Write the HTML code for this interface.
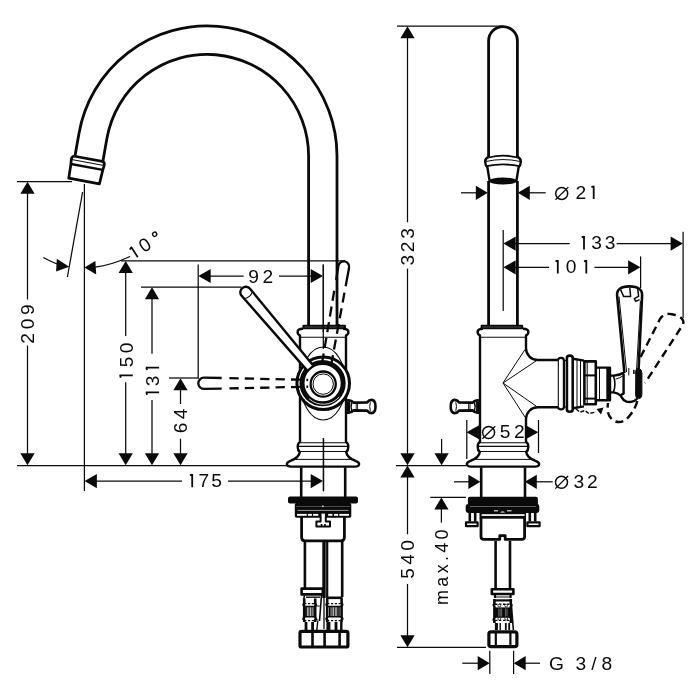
<!DOCTYPE html>
<html><head><meta charset="utf-8"><title>Faucet dimension drawing</title>
<style>
html,body{margin:0;padding:0;background:#fff;}
body{width:700px;height:700px;overflow:hidden;font-family:"Liberation Sans",sans-serif;}
svg{display:block;will-change:transform;}
text{font-family:"Liberation Sans",sans-serif;fill:#0a0a0a;}
</style></head><body>
<svg width="700" height="700" viewBox="0 0 700 700" stroke-linecap="butt" stroke-linejoin="round">
<!-- left view: spout -->
<path d="M74.89 156.57 L78.97 133.43 A130 130 0 0 1 337 156 L337 325" stroke="#0a0a0a" stroke-width="2.8" fill="none" />
<path d="M102.95 161.01 L106.94 138.36 A101.6 101.6 0 0 1 308.6 156 L308.6 325" stroke="#0a0a0a" stroke-width="2.8" fill="none" />
<g transform="translate(88.4 158.8) rotate(10.5)">
<path d="M-14 0 L14 0" stroke="#0a0a0a" stroke-width="2.6" fill="none" />
<path d="M-14 0 Q-17.2 0.5 -16.7 4 L-16.2 8.3 L-15.8 22.6 L15.4 22.6 L16.2 8.3 L16.7 4 Q17.2 0.5 14 0" stroke="#0a0a0a" stroke-width="2.7" fill="none" />
<path d="M-16.2 8.3 L16.2 8.3" stroke="#0a0a0a" stroke-width="2.4" fill="none" />
<path d="M-16.5 3.8 L16.5 3.8" stroke="#0a0a0a" stroke-width="1.0" fill="none" />
</g>
<!-- left dims -->
<line x1="17" y1="181.6" x2="72" y2="181.6" stroke="#0a0a0a" stroke-width="1.25" />
<line x1="17" y1="465.6" x2="290" y2="465.6" stroke="#0a0a0a" stroke-width="1.25" />
<line x1="27.5" y1="190" x2="27.5" y2="299.5" stroke="#0a0a0a" stroke-width="1.25" />
<line x1="27.5" y1="345.5" x2="27.5" y2="456" stroke="#0a0a0a" stroke-width="1.25" />
<polygon points="27.50,181.80 20.35,193.80 34.65,193.80" fill="#0a0a0a"/>
<polygon points="27.50,465.20 20.35,453.20 34.65,453.20" fill="#0a0a0a"/>
<g transform="translate(34.40 342.70) rotate(-90)">
<text x="4.38" y="0" font-size="19.2" text-anchor="middle">2</text>
<text x="18.67" y="0" font-size="19.2" text-anchor="middle">0</text>
<text x="32.96" y="0" font-size="19.2" text-anchor="middle">9</text>
</g>
<line x1="84.4" y1="184" x2="84.4" y2="491" stroke="#0a0a0a" stroke-width="1.25" />
<line x1="82.6" y1="192" x2="67.4" y2="277" stroke="#0a0a0a" stroke-width="1.25" />
<polygon points="69.2,266.8 56.8,258.8 56.1,271.6" fill="#0a0a0a"/>
<path d="M43.3 257.5 Q50 261.2 57 264" stroke="#0a0a0a" stroke-width="1.25" fill="none" />
<polygon points="84.4,267.6 95.4,261 96.2,274.6" fill="#0a0a0a"/>
<path d="M95.5 267.2 Q113 264.5 130 256.5" stroke="#0a0a0a" stroke-width="1.25" fill="none" />
<g transform="translate(137.8 257.2) rotate(-33.3)">
<path d="M-2.5 -10.7 L0 -11.9 M0 -12.4 L0 0" stroke="#0a0a0a" stroke-width="1.7" fill="none"/>
<text x="12.7" y="0.2" font-size="19" text-anchor="middle">0</text>
<circle cx="26.7" cy="-9.9" r="2.1" fill="none" stroke="#0a0a0a" stroke-width="1.3"/>
</g>
<line x1="121" y1="260.8" x2="345" y2="260.8" stroke="#0a0a0a" stroke-width="1.25" />
<line x1="125.7" y1="270" x2="125.7" y2="336" stroke="#0a0a0a" stroke-width="1.25" />
<line x1="125.7" y1="382.3" x2="125.7" y2="456" stroke="#0a0a0a" stroke-width="1.25" />
<polygon points="125.70,261.00 118.55,273.00 132.85,273.00" fill="#0a0a0a"/>
<polygon points="125.70,465.20 118.55,453.20 132.85,453.20" fill="#0a0a0a"/>
<g transform="translate(132.80 377.90) rotate(-90)">
<path d="M0.30 -11.99 L2.60 -12.79 M2.60 -13.34 L2.60 0" stroke="#0a0a0a" stroke-width="1.8" fill="none" stroke-linejoin="miter"/>
<text x="15.90" y="0" font-size="19.2" text-anchor="middle">5</text>
<text x="30.01" y="0" font-size="19.2" text-anchor="middle">0</text>
</g>
<line x1="141" y1="287" x2="241.5" y2="287" stroke="#0a0a0a" stroke-width="1.25" />
<line x1="152" y1="296" x2="152" y2="353.8" stroke="#0a0a0a" stroke-width="1.25" />
<line x1="152" y1="400" x2="152" y2="456" stroke="#0a0a0a" stroke-width="1.25" />
<polygon points="152.00,287.20 144.85,299.20 159.15,299.20" fill="#0a0a0a"/>
<polygon points="152.00,465.20 144.85,453.20 159.15,453.20" fill="#0a0a0a"/>
<g transform="translate(159.10 395.00) rotate(-90)">
<path d="M0.30 -11.99 L2.60 -12.79 M2.60 -13.34 L2.60 0" stroke="#0a0a0a" stroke-width="1.8" fill="none" stroke-linejoin="miter"/>
<text x="14.16" y="0" font-size="19.2" text-anchor="middle">3</text>
<path d="M25.00 -11.99 L27.30 -12.79 M27.30 -13.34 L27.30 0" stroke="#0a0a0a" stroke-width="1.8" fill="none" stroke-linejoin="miter"/>
</g>
<line x1="169" y1="378" x2="199" y2="378" stroke="#0a0a0a" stroke-width="1.25" />
<line x1="180.5" y1="387" x2="180.5" y2="404" stroke="#0a0a0a" stroke-width="1.25" />
<line x1="180.5" y1="438.7" x2="180.5" y2="456" stroke="#0a0a0a" stroke-width="1.25" />
<polygon points="180.50,378.20 173.35,390.20 187.65,390.20" fill="#0a0a0a"/>
<polygon points="180.50,465.20 173.35,453.20 187.65,453.20" fill="#0a0a0a"/>
<g transform="translate(187.40 432.20) rotate(-90)">
<text x="4.36" y="0" font-size="19.2" text-anchor="middle">6</text>
<text x="18.22" y="0" font-size="19.2" text-anchor="middle">4</text>
</g>
<line x1="198.2" y1="264.6" x2="198.2" y2="378" stroke="#0a0a0a" stroke-width="1.25" />
<line x1="323.3" y1="264.6" x2="323.3" y2="332" stroke="#0a0a0a" stroke-width="1.25" />
<line x1="209" y1="276" x2="243.6" y2="276" stroke="#0a0a0a" stroke-width="1.25" />
<line x1="279" y1="276" x2="312" y2="276" stroke="#0a0a0a" stroke-width="1.25" />
<polygon points="198.40,276.00 210.70,268.90 210.70,283.10" fill="#0a0a0a"/>
<polygon points="323.00,276.00 310.70,268.90 310.70,283.10" fill="#0a0a0a"/>
<g transform="translate(249.20 282.60)">
<text x="4.44" y="0" font-size="19.2" text-anchor="middle">9</text>
<text x="18.62" y="0" font-size="19.2" text-anchor="middle">2</text>
</g>
<line x1="323.3" y1="438" x2="323.3" y2="491" stroke="#0a0a0a" stroke-width="1.25" />
<line x1="95" y1="481.1" x2="182" y2="481.1" stroke="#0a0a0a" stroke-width="1.25" />
<line x1="228" y1="481.1" x2="312" y2="481.1" stroke="#0a0a0a" stroke-width="1.25" />
<polygon points="84.60,481.10 96.90,474.00 96.90,488.20" fill="#0a0a0a"/>
<polygon points="323.00,481.10 310.70,474.00 310.70,488.20" fill="#0a0a0a"/>
<g transform="translate(189.60 487.30)">
<path d="M0.30 -11.99 L2.60 -12.79 M2.60 -13.34 L2.60 0" stroke="#0a0a0a" stroke-width="1.8" fill="none" stroke-linejoin="miter"/>
<text x="14.34" y="0" font-size="19.2" text-anchor="middle">7</text>
<text x="26.97" y="0" font-size="19.2" text-anchor="middle">5</text>
</g>
<!-- left body -->
<path d="M303 328.8 Q297.5 329 297.6 332 Q297.6 334.6 300 335.4 L300 442 Q297.6 443 297.7 447 Q297.7 450.5 299.8 452 Q299 458 290 461.2 Q286.4 462.5 287 464.8 Q287.5 466.6 291 466.6 L355 466.6 Q358.5 466.6 359 464.8 Q359.6 462.5 356 461.2 Q347 458 346.2 452 Q348.3 450.5 348.3 447 Q348.4 443 346 442 L346 335.4 Q348.4 334.6 348.4 332 Q348.5 329 343 328.8" stroke="#0a0a0a" stroke-width="2.4" fill="none" />
<path d="M303.4 325.6 L345 325.6 L345 328.4 L303.4 328.4 Z" stroke="#0a0a0a" stroke-width="1.9" fill="none" />
<line x1="303.9" y1="327" x2="344.5" y2="327" stroke="#0a0a0a" stroke-width="1.6" />
<line x1="300" y1="337.2" x2="346" y2="337.2" stroke="#0a0a0a" stroke-width="1.1" />
<line x1="300" y1="442.8" x2="346" y2="442.8" stroke="#0a0a0a" stroke-width="1.1" />
<line x1="298" y1="446.4" x2="348" y2="446.4" stroke="#0a0a0a" stroke-width="1.1" />
<line x1="299" y1="451.5" x2="347" y2="451.5" stroke="#0a0a0a" stroke-width="1.1" />
<line x1="291" y1="459.4" x2="355" y2="459.4" stroke="#0a0a0a" stroke-width="1.0" />
<line x1="323.3" y1="264.6" x2="323.3" y2="349" stroke="#0a0a0a" stroke-width="1.25" />
<line x1="323.6" y1="438.6" x2="323.6" y2="491.4" stroke="#0a0a0a" stroke-width="1.25" />
<ellipse cx="323.2" cy="383.5" rx="22.5" ry="36.5" fill="none" stroke="#0a0a0a" stroke-width="1.1"/>
<circle cx="323.2" cy="383.3" r="26.3" fill="#fff" stroke="#0a0a0a" stroke-width="3"/>
<circle cx="322.59999999999997" cy="383.1" r="20.6" fill="none" stroke="#0a0a0a" stroke-width="5.0"/>
<path d="M309.2 398.90000000000003 A21 21 0 0 0 339.2 396.90000000000003" fill="none" stroke="#fff" stroke-width="0.8"/>
<circle cx="323.2" cy="384.1" r="12.6" fill="none" stroke="#0a0a0a" stroke-width="2.3"/>
<circle cx="323.2" cy="384.1" r="10.2" fill="none" stroke="#0a0a0a" stroke-width="1.0"/>
<path d="M346.6 400.6 Q351.1 399.6 353.6 402.6 L367.1 402.4 Q369.1 399.8 371.8 399.9 Q375.5 400.4 375.5 406.5 Q375.5 412.6 371.8 413.1 Q369.1 413.2 367.1 410.6 L353.6 410.4 Q351.1 413.4 346.6 412.4" stroke="#0a0a0a" stroke-width="2.6" fill="none" />
<path d="M348.40000000000003 401.6 L348.40000000000003 411.6" stroke="#0a0a0a" stroke-width="3.4" fill="none" />
<path d="M351.8 402.4 Q350.20000000000005 406.5 351.8 410.8" stroke="#0a0a0a" stroke-width="1.6" fill="none" />
<path d="M370.40000000000003 402.3 Q369.0 406.5 370.40000000000003 410.8" stroke="#0a0a0a" stroke-width="1.0" fill="none" />
<line x1="356.20000000000005" y1="403" x2="356.20000000000005" y2="410.2" stroke="#0a0a0a" stroke-width="0.9" />
<line x1="357.6" y1="403" x2="357.6" y2="410.2" stroke="#0a0a0a" stroke-width="0.9" />
<g transform="translate(323.2 383.3) rotate(-130.36)">
<path d="M20 -3.9 L119.5 -5.5 A5.5 5.5 0 0 1 119.5 5.5 L20 3.9" stroke="#0a0a0a" stroke-width="2.4" fill="#fff" />
<path d="M115.6 -5.3 Q112.5 0 115.6 5.3" stroke="#0a0a0a" stroke-width="1.0" fill="none" />
<path d="M20 -3.9 L20 3.9" stroke="#0a0a0a" stroke-width="1.6" fill="none" />
</g>
<g transform="translate(323.2 383.3) rotate(180.00)">
<path d="M101.5 -5.3 L119.3 -5.6 A5.6 5.6 0 0 1 119.3 5.6 L101.5 5.3" stroke="#0a0a0a" stroke-width="2.3" fill="none" />
<path d="M93.8 -5.15 L15 -3.4" stroke="#0a0a0a" stroke-width="2.3" fill="none" stroke-dasharray="9.3 6.1"/>
<path d="M93.8 5.15 L15 3.4" stroke="#0a0a0a" stroke-width="2.3" fill="none" stroke-dasharray="9.3 6.1"/>
</g>
<g transform="translate(323.2 383.3) rotate(-80.00)">
<path d="M104 -5.25 L118.3 -5.4 A5.4 5.4 0 0 1 118.3 5.4 L99.5 5.25" stroke="#0a0a0a" stroke-width="2.3" fill="none" />
<path d="M93 5.2 L15 4.6" stroke="#0a0a0a" stroke-width="2.3" fill="none" stroke-dasharray="10.1 5.8"/>
<path d="M93 -5.2 L15 -4.6" stroke="#0a0a0a" stroke-width="2.3" fill="none" stroke-dasharray="10.1 5.8"/>
</g>
<!-- left under-sink -->
<path d="M301.2 467.5 L301.2 497 M345.2 467.5 L345.2 497" stroke="#0a0a0a" stroke-width="2.6" fill="none" />
<rect x="288" y="496.4" width="70" height="7.2" rx="2" fill="#0a0a0a"/>
<rect x="294.8" y="503" width="56.5" height="14.8" rx="1.8" fill="#0a0a0a"/>
<rect x="297.5" y="509.9" width="51" height="0.9" fill="#aaa"/>
<rect x="296" y="506.3" width="54" height="0.7" fill="#666"/>
<rect x="297" y="513.9" width="9.699999999999989" height="1.9" fill="#fff"/>
<rect x="307.9" y="513.9" width="4.0" height="1.9" fill="#fff"/>
<rect x="313" y="513.9" width="5.300000000000011" height="1.9" fill="#fff"/>
<rect x="328.2" y="513.9" width="4.199999999999989" height="1.9" fill="#fff"/>
<rect x="334" y="513.9" width="4.100000000000023" height="1.9" fill="#fff"/>
<rect x="339.3" y="513.9" width="9.699999999999989" height="1.9" fill="#fff"/>
<rect x="321.5" y="513.6" width="3.4" height="7.4" fill="#fff"/>
<path d="M320.6 517 L320.6 521.6 L316.4 521.6 L316.4 526.6 L330 526.6 L330 521.6 L325.8 521.6 L325.8 517" stroke="#0a0a0a" stroke-width="2.0" fill="none" />
<path d="M321.5 524 L321.5 526 M325 524 L325 526" stroke="#0a0a0a" stroke-width="1.6" fill="none" />
<rect x="322" y="505.6" width="1.6" height="1.2" fill="#fff"/>
<path d="M301.6 517 L301.6 537.2 Q301.6 540.8 305.2 540.8 L340.8 540.8 Q344.4 540.8 344.4 537.2 L344.4 517" stroke="#0a0a0a" stroke-width="2.8" fill="none" />
<path d="M304.9 541 L304.9 588 M342.2 541 L342.2 597" stroke="#0a0a0a" stroke-width="2.6" fill="none" />
<path d="M324 541 L324 598" stroke="#0a0a0a" stroke-width="3.4" fill="none" />
<path d="M324 598 L324 629" stroke="#0a0a0a" stroke-width="1.3" fill="none" />
<path d="M327.2 541 L327.2 597" stroke="#0a0a0a" stroke-width="2.2" fill="none" />
<path d="M301.6 588.6 L322.8 588.6 L322.8 594.4 L301.6 594.4 Z" stroke="#0a0a0a" stroke-width="2.6" fill="none" />
<path d="M304.4 595 Q304 599 303.8 601 M321.5 595 L319.5 621" stroke="#0a0a0a" stroke-width="1.6" fill="none" />
<path d="M306 597.2 L320 597.2" stroke="#0a0a0a" stroke-width="1.4" fill="none" />
<path d="M326.2 597.8 L342.6 597.8" stroke="#0a0a0a" stroke-width="2.6" fill="none" />
<path d="M304.2 598.5 L304.2 603.5 Q303.0 604.5 304.2 606 L304.2 617 Q303.0 618.5 304.2 620 L304.2 622 M315.2 598.5 L315.2 603.5 Q316.4 604.5 315.2 606 L315.2 617 Q316.4 618.5 315.2 620 L315.2 622" stroke="#0a0a0a" stroke-width="2.6" fill="none" />
<path d="M304.2 603.6 L315.2 603.6 M304.2 620.6 L315.2 620.6" stroke="#0a0a0a" stroke-width="1.3" fill="none" stroke-dasharray="2.2 1.6"/>
<path d="M304.2 606.6 L315.2 606.6 M304.2 616.8 L315.2 616.8" stroke="#0a0a0a" stroke-width="1.5" fill="none" />
<line x1="306.5" y1="607" x2="306.5" y2="616.5" stroke="#0a0a0a" stroke-width="0.9" />
<line x1="308.09999999999997" y1="607" x2="308.09999999999997" y2="616.5" stroke="#0a0a0a" stroke-width="0.9" />
<line x1="309.7" y1="607" x2="309.7" y2="616.5" stroke="#0a0a0a" stroke-width="0.9" />
<line x1="311.3" y1="607" x2="311.3" y2="616.5" stroke="#0a0a0a" stroke-width="0.9" />
<line x1="312.9" y1="607" x2="312.9" y2="616.5" stroke="#0a0a0a" stroke-width="0.9" />
<path d="M305.09999999999997 607 L305.09999999999997 616.5 M314.3 607 L314.3 616.5" stroke="#0a0a0a" stroke-width="1.6" fill="none" />
<path d="M327.2 598.5 L327.2 603.5 Q326.0 604.5 327.2 606 L327.2 617 Q326.0 618.5 327.2 620 L327.2 622 M341.6 598.5 L341.6 603.5 Q342.8 604.5 341.6 606 L341.6 617 Q342.8 618.5 341.6 620 L341.6 622" stroke="#0a0a0a" stroke-width="2.6" fill="none" />
<path d="M327.2 603.6 L341.6 603.6 M327.2 620.6 L341.6 620.6" stroke="#0a0a0a" stroke-width="1.3" fill="none" stroke-dasharray="2.2 1.6"/>
<path d="M327.2 606.6 L341.6 606.6 M327.2 616.8 L341.6 616.8" stroke="#0a0a0a" stroke-width="1.5" fill="none" />
<line x1="331.2" y1="607" x2="331.2" y2="616.5" stroke="#0a0a0a" stroke-width="0.9" />
<line x1="332.79999999999995" y1="607" x2="332.79999999999995" y2="616.5" stroke="#0a0a0a" stroke-width="0.9" />
<line x1="334.4" y1="607" x2="334.4" y2="616.5" stroke="#0a0a0a" stroke-width="0.9" />
<line x1="336.0" y1="607" x2="336.0" y2="616.5" stroke="#0a0a0a" stroke-width="0.9" />
<line x1="337.59999999999997" y1="607" x2="337.59999999999997" y2="616.5" stroke="#0a0a0a" stroke-width="0.9" />
<path d="M329.79999999999995 607 L329.79999999999995 616.5 M339.0 607 L339.0 616.5" stroke="#0a0a0a" stroke-width="1.6" fill="none" />
<path d="M315.5 606 L319.8 606 M315.5 620 L318.6 620" stroke="#0a0a0a" stroke-width="1.2" fill="none" />
<path d="M306 622 L306 630 M312.6 622 L312.6 630" stroke="#0a0a0a" stroke-width="2.8" fill="none" />
<path d="M317.8 621 L316.8 630" stroke="#0a0a0a" stroke-width="1.4" fill="none" />
<path d="M328.4 622 L328.4 630" stroke="#0a0a0a" stroke-width="4.0" fill="none" />
<path d="M336 622 L336 630" stroke="#0a0a0a" stroke-width="2.8" fill="none" />
<path d="M341.3 622 L341.3 630" stroke="#0a0a0a" stroke-width="2.4" fill="none" />
<path d="M300 633 Q300 631.4 301.8 631.4 L346 631.4 Q347.9 631.4 347.9 633 L347.9 645.4 Q347.9 647 346 647 L301.8 647 Q300 647 300 645.4 Z" stroke="#0a0a0a" stroke-width="3.2" fill="none" />
<path d="M312.5 631 L312.5 647 M324.6 631 L324.6 647 M339.6 631 L339.6 647" stroke="#0a0a0a" stroke-width="2.6" fill="none" />
<!-- right view -->
<path d="M488.6 157 L488.6 41 A14.4 14.4 0 0 1 517.4 41 L517.4 157" stroke="#0a0a0a" stroke-width="2.8" fill="none" />
<path d="M488.6 181 L488.6 325 M517.4 181 L517.4 325" stroke="#0a0a0a" stroke-width="2.8" fill="none" />
<path d="M488.6 157.5 Q503 153.6 517.4 157.5" stroke="#0a0a0a" stroke-width="1.8" fill="none" />
<path d="M488.6 157 Q484.9 158.3 485.2 162 Q485.4 165.8 487.4 167.3 L489.6 181 M517.4 157 Q521.1 158.3 520.8 162 Q520.6 165.8 518.6 167.3 L516.4 181" stroke="#0a0a0a" stroke-width="2.4" fill="none" />
<path d="M485.6 161.5 Q503 157.6 520.4 161.5" stroke="#0a0a0a" stroke-width="1.0" fill="none" />
<path d="M486.6 166.2 Q503 162.6 519.4 166.2" stroke="#0a0a0a" stroke-width="1.8" fill="none" />
<ellipse cx="503" cy="181" rx="14" ry="3.5" fill="#0a0a0a"/>
<line x1="397" y1="26" x2="503" y2="26" stroke="#0a0a0a" stroke-width="1.25" />
<line x1="396" y1="465.6" x2="466" y2="465.6" stroke="#0a0a0a" stroke-width="1.25" />
<line x1="397" y1="647.4" x2="486" y2="647.4" stroke="#0a0a0a" stroke-width="1.25" />
<line x1="407.5" y1="35" x2="407.5" y2="222.3" stroke="#0a0a0a" stroke-width="1.25" />
<line x1="407.5" y1="268.6" x2="407.5" y2="456" stroke="#0a0a0a" stroke-width="1.25" />
<line x1="407.5" y1="475" x2="407.5" y2="534.3" stroke="#0a0a0a" stroke-width="1.25" />
<line x1="407.5" y1="584" x2="407.5" y2="638" stroke="#0a0a0a" stroke-width="1.25" />
<polygon points="407.50,26.20 400.35,38.20 414.65,38.20" fill="#0a0a0a"/>
<polygon points="407.50,465.20 400.35,453.20 414.65,453.20" fill="#0a0a0a"/>
<polygon points="407.50,465.40 400.35,477.40 414.65,477.40" fill="#0a0a0a"/>
<polygon points="407.50,647.30 400.35,635.30 414.65,635.30" fill="#0a0a0a"/>
<g transform="translate(414.30 264.80) rotate(-90)">
<text x="4.61" y="0" font-size="19.2" text-anchor="middle">3</text>
<text x="17.95" y="0" font-size="19.2" text-anchor="middle">2</text>
<text x="31.41" y="0" font-size="19.2" text-anchor="middle">3</text>
</g>
<g transform="translate(414.20 577.90) rotate(-90)">
<text x="4.57" y="0" font-size="19.2" text-anchor="middle">5</text>
<text x="18.59" y="0" font-size="19.2" text-anchor="middle">4</text>
<text x="32.51" y="0" font-size="19.2" text-anchor="middle">0</text>
</g>
<line x1="461" y1="192.8" x2="478" y2="192.8" stroke="#0a0a0a" stroke-width="1.25" />
<line x1="528" y1="192.8" x2="545.7" y2="192.8" stroke="#0a0a0a" stroke-width="1.25" />
<polygon points="487.80,192.80 475.80,185.65 475.80,199.95" fill="#0a0a0a"/>
<polygon points="517.80,192.80 529.80,185.65 529.80,199.95" fill="#0a0a0a"/>
<circle cx="561.7" cy="193.4" r="6.0" fill="none" stroke="#0a0a0a" stroke-width="1.5"/>
<line x1="555.5" y1="199.70000000000002" x2="568.3000000000001" y2="187.1" stroke="#0a0a0a" stroke-width="1.3" />
<g transform="translate(576.40 199.10)">
<text x="4.38" y="0" font-size="19.2" text-anchor="middle">2</text>
<path d="M15.00 -11.99 L17.30 -12.79 M17.30 -13.34 L17.30 0" stroke="#0a0a0a" stroke-width="1.8" fill="none" stroke-linejoin="miter"/>
</g>
<line x1="503.2" y1="230" x2="503.2" y2="311" stroke="#0a0a0a" stroke-width="1.25" />
<line x1="683.1" y1="231.7" x2="683.1" y2="318" stroke="#0a0a0a" stroke-width="1.25" />
<line x1="513" y1="243.6" x2="569.7" y2="243.6" stroke="#0a0a0a" stroke-width="1.25" />
<line x1="616.6" y1="243.6" x2="673" y2="243.6" stroke="#0a0a0a" stroke-width="1.25" />
<polygon points="503.40,243.60 515.70,236.50 515.70,250.70" fill="#0a0a0a"/>
<polygon points="682.90,243.60 670.60,236.50 670.60,250.70" fill="#0a0a0a"/>
<g transform="translate(581.40 249.40)">
<path d="M0.30 -11.99 L2.60 -12.79 M2.60 -13.34 L2.60 0" stroke="#0a0a0a" stroke-width="1.8" fill="none" stroke-linejoin="miter"/>
<text x="15.31" y="0" font-size="19.2" text-anchor="middle">3</text>
<text x="28.81" y="0" font-size="19.2" text-anchor="middle">3</text>
</g>
<line x1="640.6" y1="256.4" x2="640.6" y2="288" stroke="#0a0a0a" stroke-width="1.25" />
<line x1="513" y1="267.3" x2="549.1" y2="267.3" stroke="#0a0a0a" stroke-width="1.25" />
<line x1="594.4" y1="267.3" x2="630" y2="267.3" stroke="#0a0a0a" stroke-width="1.25" />
<polygon points="503.40,267.30 515.70,260.20 515.70,274.40" fill="#0a0a0a"/>
<polygon points="640.40,267.30 628.10,260.20 628.10,274.40" fill="#0a0a0a"/>
<g transform="translate(555.20 273.40)">
<path d="M0.30 -11.99 L2.60 -12.79 M2.60 -13.34 L2.60 0" stroke="#0a0a0a" stroke-width="1.8" fill="none" stroke-linejoin="miter"/>
<text x="16.00" y="0" font-size="19.2" text-anchor="middle">0</text>
<path d="M28.80 -11.99 L31.10 -12.79 M31.10 -13.34 L31.10 0" stroke="#0a0a0a" stroke-width="1.8" fill="none" stroke-linejoin="miter"/>
</g>
<line x1="466.8" y1="420" x2="466.8" y2="459" stroke="#0a0a0a" stroke-width="1.25" />
<line x1="538.5" y1="420" x2="538.5" y2="453" stroke="#0a0a0a" stroke-width="1.25" />
<polygon points="466.50,432.30 479.10,425.30 479.10,439.30" fill="#0a0a0a"/>
<polygon points="538.30,432.30 525.70,425.30 525.70,439.30" fill="#0a0a0a"/>
<circle cx="488.6" cy="432.5" r="6.0" fill="none" stroke="#0a0a0a" stroke-width="1.5"/>
<line x1="482.40000000000003" y1="438.8" x2="495.20000000000005" y2="426.2" stroke="#0a0a0a" stroke-width="1.3" />
<g transform="translate(500.40 438.40)">
<text x="4.57" y="0" font-size="19.2" text-anchor="middle">5</text>
<text x="18.92" y="0" font-size="19.2" text-anchor="middle">2</text>
</g>
<line x1="454" y1="481.8" x2="470" y2="481.8" stroke="#0a0a0a" stroke-width="1.25" />
<line x1="535" y1="481.8" x2="552.7" y2="481.8" stroke="#0a0a0a" stroke-width="1.25" />
<polygon points="480.40,481.80 468.40,474.65 468.40,488.95" fill="#0a0a0a"/>
<polygon points="524.80,481.80 536.80,474.65 536.80,488.95" fill="#0a0a0a"/>
<circle cx="561.5" cy="482.3" r="6.0" fill="none" stroke="#0a0a0a" stroke-width="1.5"/>
<line x1="555.3" y1="488.6" x2="568.1" y2="476.0" stroke="#0a0a0a" stroke-width="1.3" />
<g transform="translate(574.30 488.40)">
<text x="4.61" y="0" font-size="19.2" text-anchor="middle">3</text>
<text x="18.02" y="0" font-size="19.2" text-anchor="middle">2</text>
</g>
<line x1="430.3" y1="497.4" x2="466" y2="497.4" stroke="#0a0a0a" stroke-width="1.25" />
<line x1="441.6" y1="439" x2="441.6" y2="454" stroke="#0a0a0a" stroke-width="1.25" />
<polygon points="441.60,465.20 434.45,453.20 448.75,453.20" fill="#0a0a0a"/>
<polygon points="441.40,497.60 434.25,509.60 448.55,509.60" fill="#0a0a0a"/>
<line x1="441.4" y1="508" x2="441.4" y2="522.6" stroke="#0a0a0a" stroke-width="1.25" />
<g transform="translate(447.90 603.80) rotate(-90)">
<text x="-1.19" y="0" font-size="18" letter-spacing="3.31">max.40</text>
</g>
<line x1="489.8" y1="650.7" x2="489.8" y2="674" stroke="#0a0a0a" stroke-width="1.25" />
<line x1="513.6" y1="650.7" x2="513.6" y2="674" stroke="#0a0a0a" stroke-width="1.25" />
<line x1="462.3" y1="663.2" x2="478.5" y2="663.2" stroke="#0a0a0a" stroke-width="1.25" />
<line x1="525" y1="663.2" x2="540" y2="663.2" stroke="#0a0a0a" stroke-width="1.25" />
<polygon points="489.70,663.20 477.70,656.05 477.70,670.35" fill="#0a0a0a"/>
<polygon points="513.70,663.20 525.70,656.05 525.70,670.35" fill="#0a0a0a"/>
<g transform="translate(550.00 669.90)">
<text x="-0.96" y="0" font-size="19.2" letter-spacing="0.00">G</text>
</g>
<g transform="translate(576.20 669.90)">
<text x="-0.73" y="0" font-size="19.2" letter-spacing="4.98">3/8</text>
</g>
<path d="M483 328.8 Q477.5 329 477.6 332 Q477.6 334.6 480 335.4 L480 442 Q477.6 443 477.7 447 Q477.7 450.5 479.8 452 Q479 458 470 461.2 Q466.4 462.5 467 464.8 Q467.5 466.6 471 466.6 L535 466.6 Q538.5 466.6 539 464.8 Q539.6 462.5 536 461.2 Q527 458 526.2 452 Q528.3 450.5 528.3 447 Q528.4 443 526 442 L526 419 A11.7 11.7 0 0 1 537.7 407.3 L558 407.3 M558 360 L537.7 360 A11.7 11.7 0 0 1 526 348.3 L526 335.4 Q528.4 334.6 528.4 332 Q528.5 329 523 328.8" stroke="#0a0a0a" stroke-width="2.4" fill="none" />
<path d="M481.6 325.6 L522.2 325.6 L522.2 328.4 L481.6 328.4 Z" stroke="#0a0a0a" stroke-width="1.9" fill="none" />
<line x1="482.1" y1="327" x2="521.7" y2="327" stroke="#0a0a0a" stroke-width="1.6" />
<line x1="480" y1="337.2" x2="526" y2="337.2" stroke="#0a0a0a" stroke-width="1.1" />
<line x1="480" y1="442.8" x2="526" y2="442.8" stroke="#0a0a0a" stroke-width="1.1" />
<line x1="478" y1="446.4" x2="528" y2="446.4" stroke="#0a0a0a" stroke-width="1.1" />
<line x1="479" y1="451.5" x2="527" y2="451.5" stroke="#0a0a0a" stroke-width="1.1" />
<line x1="471" y1="459.4" x2="535" y2="459.4" stroke="#0a0a0a" stroke-width="1.0" />
<path d="M525 349.5 L503 383 L525 417 M536 361 L503 383 L536 406" stroke="#0a0a0a" stroke-width="1.0" fill="none" />
<path d="M479.6 400.6 Q475.1 399.6 472.6 402.6 L459.1 402.4 Q457.1 399.8 454.40000000000003 399.9 Q450.70000000000005 400.4 450.70000000000005 406.5 Q450.70000000000005 412.6 454.40000000000003 413.1 Q457.1 413.2 459.1 410.6 L472.6 410.4 Q475.1 413.4 479.6 412.4" stroke="#0a0a0a" stroke-width="2.6" fill="none" />
<path d="M477.8 401.6 L477.8 411.6" stroke="#0a0a0a" stroke-width="3.4" fill="none" />
<path d="M474.40000000000003 402.4 Q476.0 406.5 474.40000000000003 410.8" stroke="#0a0a0a" stroke-width="1.6" fill="none" />
<path d="M455.8 402.3 Q457.20000000000005 406.5 455.8 410.8" stroke="#0a0a0a" stroke-width="1.0" fill="none" />
<line x1="470.0" y1="403" x2="470.0" y2="410.2" stroke="#0a0a0a" stroke-width="0.9" />
<line x1="468.6" y1="403" x2="468.6" y2="410.2" stroke="#0a0a0a" stroke-width="0.9" />
<path d="M558 360 Q558.6 357.6 561.2 357.8 Q563.9 358 563.9 360.5 L563.9 407 Q563.9 409.3 561.2 409.4 Q558.6 409.4 558 407.3" stroke="#0a0a0a" stroke-width="2.2" fill="none" />
<line x1="558.3" y1="360" x2="558.3" y2="407.3" stroke="#0a0a0a" stroke-width="1.1" />
<path d="M566.9 358 Q566.9 355.6 569.8 355.6 Q572.7 355.6 572.7 358 L572.7 409.5 Q572.7 411.8 569.8 411.8 Q566.9 411.8 566.9 409.5 Z" stroke="#0a0a0a" stroke-width="2.6" fill="none" />
<line x1="564.5" y1="360.5" x2="566.5" y2="360.5" stroke="#0a0a0a" stroke-width="1.2" />
<line x1="564.5" y1="407" x2="566.5" y2="407" stroke="#0a0a0a" stroke-width="1.2" />
<path d="M573 358.8 L584 360.6 M573 408.2 L584 406.4" stroke="#0a0a0a" stroke-width="2.4" fill="none" />
<line x1="577" y1="359.5" x2="577" y2="407.5" stroke="#0a0a0a" stroke-width="1.0" />
<line x1="580.5" y1="360" x2="580.5" y2="407" stroke="#0a0a0a" stroke-width="1.0" />
<path d="M584.4 361.4 L595.8 361.4 L595.8 404.2 L584.4 404.2 Z" stroke="#0a0a0a" stroke-width="2.6" fill="none" />
<line x1="584.4" y1="375.4" x2="595.8" y2="375.4" stroke="#0a0a0a" stroke-width="2.0" />
<line x1="584.4" y1="398.6" x2="595.8" y2="398.6" stroke="#0a0a0a" stroke-width="2.0" />
<line x1="587.2" y1="362" x2="587.2" y2="404" stroke="#0a0a0a" stroke-width="1.0" />
<path d="M596 367.6 L610 367.6 L610 400.2 L596 400.2" stroke="#0a0a0a" stroke-width="2.4" fill="none" />
<path d="M608.6 367.6 L608.6 400.2" stroke="#0a0a0a" stroke-width="4.6" fill="none" />
<line x1="599.5" y1="368" x2="599.5" y2="400" stroke="#0a0a0a" stroke-width="1.0" />
<path d="M611 375.6 L614 375.6 Q620 375 624 372.6 M611 392.4 L613.5 392.4 Q618 393 620.6 395.6" stroke="#0a0a0a" stroke-width="2.4" fill="none" />
<path d="M613.4 376 Q616.5 384 613.4 392.4" stroke="#0a0a0a" stroke-width="1.6" fill="none" />
<path d="M615.5 379.2 Q620 378 623.5 375.6" stroke="#0a0a0a" stroke-width="1.0" fill="none" />
<path d="M617.1 295.5 Q616.4 286.5 629.4 286.4 Q642.6 286.5 642.1 295.5 L638.6 369 M617.1 295.5 L624.4 373" stroke="#0a0a0a" stroke-width="2.6" fill="none" />
<path d="M619 296.5 L626.6 372 M640.4 301 L636.6 369" stroke="#0a0a0a" stroke-width="1.0" fill="none" />
<path d="M620.4 289.2 L623.6 296.4 L630.6 296.4 L629.8 287.8 M637.7 288.4 L638.6 296.4 L634.3 298.6 L635.8 301.4 L639.6 299.6" stroke="#0a0a0a" stroke-width="1.5" fill="none" />
<path d="M623.6 374 L623.6 393.6 Q620.4 394.6 621.2 396.6 Q623 400.2 626.5 401.6 Q631 402.8 634.5 400.8 Q636.6 399.4 637.3 398.4" stroke="#0a0a0a" stroke-width="2.4" fill="none" />
<path d="M635.8 371 Q636 368.4 638.6 368.6 Q641.9 369 641.9 373 L641.9 394 Q641.9 398.6 638.6 398.6 Q635.6 398.6 635.6 395 Z" stroke="#0a0a0a" stroke-width="1.0" fill="#0a0a0a" />
<line x1="628.8" y1="368" x2="628.8" y2="375.4" stroke="#0a0a0a" stroke-width="1.0" />
<line x1="633.6" y1="369.8" x2="633.6" y2="374" stroke="#0a0a0a" stroke-width="1.0" />
<line x1="634.9" y1="369.8" x2="634.9" y2="374" stroke="#0a0a0a" stroke-width="1.0" />
<path d="M640.6 357 L660 319 Q664 312.6 672 314.2 Q685.5 317 683 324.6 L645 383" stroke="#0a0a0a" stroke-width="2.4" fill="none" stroke-dasharray="8 5"/>
<path d="M637.3 401 Q635 410 628 417.6 Q622 423.6 615.5 421.5 Q608.5 418.5 607.4 409.5 L608 403" stroke="#0a0a0a" stroke-width="2.4" fill="none" stroke-dasharray="8 4.5"/>
<path d="M576 409 L580 412.2 L585 410.6 L589 413.6 L596 412" stroke="#0a0a0a" stroke-width="1.5" fill="none" stroke-dasharray="4 1.6"/>
<polygon points="596.5,409 603.5,407.5 601,414.5" fill="#0a0a0a"/>
<path d="M481.2 467.5 L481.2 497 M525 467.5 L525 497" stroke="#0a0a0a" stroke-width="2.6" fill="none" />
<rect x="467.9" y="496.8" width="70" height="9" rx="2" fill="#0a0a0a"/>
<rect x="465.7" y="504" width="73.6" height="9" rx="2.4" fill="#0a0a0a"/>
<rect x="470" y="506" width="66" height="0.8" fill="#777"/>
<rect x="494" y="510.2" width="4" height="1.2" fill="#ddd"/><rect x="507" y="510.2" width="4.5" height="1.2" fill="#ddd"/>
<rect x="500.3" y="511.6" width="4.6" height="4.4" rx="1.5" fill="#fff"/>
<path d="M469.8 513 L469.8 521.6 M475.2 513 L475.2 521.6 M535.2 513 L535.2 521.6 M529.8 513 L529.8 521.6" stroke="#0a0a0a" stroke-width="2.6" fill="none" />
<path d="M466 522.4 L477.6 522.4 L477.6 526.2 L466 526.2 Z M527.4 522.4 L539.6 522.4 L539.6 526.2 L527.4 526.2 Z" stroke="#0a0a0a" stroke-width="2.2" fill="none" />
<rect x="479.5" y="512.5" width="46.5" height="6.2" fill="#0a0a0a"/>
<rect x="481.6" y="514.2" width="43" height="1.7" fill="#fff"/>
<path d="M481 518 L481 536.4 Q481 539.4 484 539.4 L499.8 539.4 L499.8 535.6 L505.2 535.6 L505.2 539.4 L521.6 539.4 Q524.6 539.4 524.6 536.4 L524.6 518" stroke="#0a0a0a" stroke-width="2.8" fill="none" />
<path d="M495.6 541 L495.6 588 M510 541 L510 588" stroke="#0a0a0a" stroke-width="2.6" fill="none" />
<path d="M491.8 589.2 L513.4 589.2 L513.4 594 L491.8 594 Z" stroke="#0a0a0a" stroke-width="2.6" fill="none" />
<path d="M495 595 L495 598 M510.6 595 L510.6 598" stroke="#0a0a0a" stroke-width="2.2" fill="none" />
<line x1="496" y1="597" x2="510" y2="597" stroke="#0a0a0a" stroke-width="1.0" />
<path d="M494.4 600.4 L511 600.4" stroke="#0a0a0a" stroke-width="2.2" fill="none" />
<path d="M494.4 599 L494.4 604 Q493.2 605 494.4 606.5 L494.4 618 Q493.2 619.5 494.4 621 L494.4 623 M510.8 599 L510.8 604 Q512 605 510.8 606.5 L510.8 618 Q512 619.5 510.8 621 L510.8 623" stroke="#0a0a0a" stroke-width="2.6" fill="none" />
<rect x="495" y="607.4" width="15.2" height="10.4" fill="#0a0a0a"/>
<line x1="498.8" y1="608.5" x2="498.8" y2="616.5" stroke="#0a0a0a" stroke-width="0.7" stroke-opacity="0.55" style="stroke:#fff"/>
<line x1="500.2" y1="608.5" x2="500.2" y2="616.5" stroke="#0a0a0a" stroke-width="0.7" stroke-opacity="0.55" style="stroke:#fff"/>
<line x1="501.6" y1="608.5" x2="501.6" y2="616.5" stroke="#0a0a0a" stroke-width="0.7" stroke-opacity="0.55" style="stroke:#fff"/>
<line x1="505.6" y1="608.5" x2="505.6" y2="616.5" stroke="#0a0a0a" stroke-width="0.7" stroke-opacity="0.55" style="stroke:#fff"/>
<line x1="507" y1="608.5" x2="507" y2="616.5" stroke="#0a0a0a" stroke-width="0.7" stroke-opacity="0.55" style="stroke:#fff"/>
<path d="M495 604.2 L510.4 604.2 M495 620.4 L510.4 620.4" stroke="#0a0a0a" stroke-width="1.4" fill="none" stroke-dasharray="2.4 1.6"/>
<circle cx="499.3" cy="605.6" r="1.4" fill="#fff" stroke="#0a0a0a" stroke-width="0.8"/>
<circle cx="506.2" cy="605.6" r="1.4" fill="#fff" stroke="#0a0a0a" stroke-width="0.8"/>
<circle cx="499.3" cy="618.8" r="1.4" fill="#fff" stroke="#0a0a0a" stroke-width="0.8"/>
<circle cx="506.2" cy="618.8" r="1.4" fill="#fff" stroke="#0a0a0a" stroke-width="0.8"/>
<path d="M511.4 605.7 L513.4 630" stroke="#0a0a0a" stroke-width="1.6" fill="none" />
<path d="M496.4 623 L496.4 630" stroke="#0a0a0a" stroke-width="3.0" fill="none" />
<path d="M500.2 623 L500.2 630" stroke="#0a0a0a" stroke-width="1.4" fill="none" />
<path d="M505.8 623 L505.8 630 M509.2 623 L509.2 630" stroke="#0a0a0a" stroke-width="1.8" fill="none" />
<path d="M488.9 634 Q488.9 631.8 491 631.8 L514.8 631.8 Q516.9 631.8 516.9 634 L516.9 644.4 Q516.9 646.6 514.8 646.6 L491 646.6 Q488.9 646.6 488.9 644.4 Z" stroke="#0a0a0a" stroke-width="3.2" fill="none" />
<path d="M495.8 632 L495.8 646.6 M510.4 632 L510.4 646.6" stroke="#0a0a0a" stroke-width="2.2" fill="none" />
</svg>
</body></html>
